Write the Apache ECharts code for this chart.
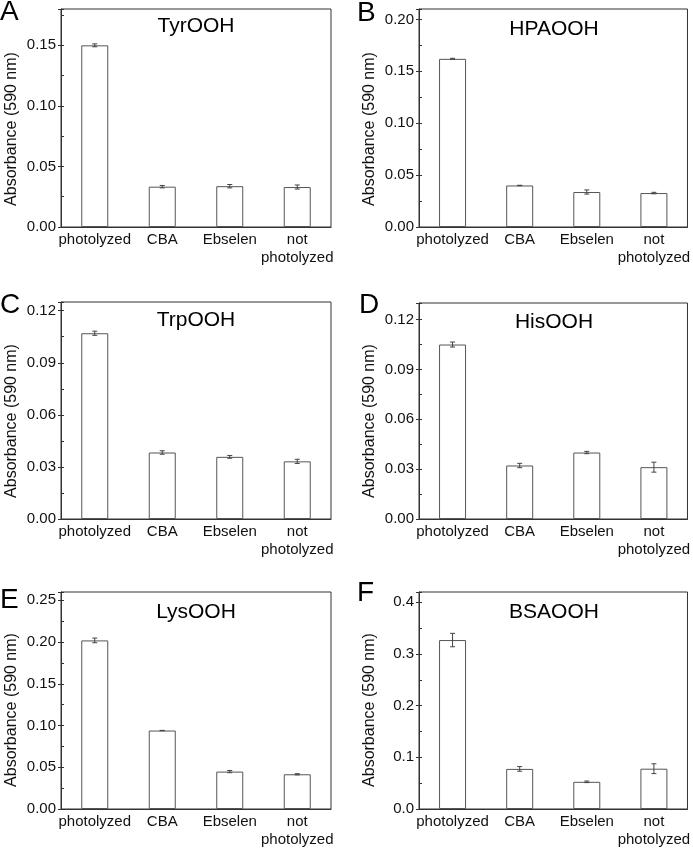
<!DOCTYPE html>
<html>
<head>
<meta charset="utf-8">
<script src="https://cdn.jsdelivr.net/npm/echarts@6/dist/echarts.min.js"></script>
<style>html,body{margin:0;padding:0;background:#fff}#c{width:693px;height:849px}</style>
</head>
<body>
<div id="c"></div>
<script>
const categories = ['photolyzed', 'CBA', 'Ebselen', 'not\nphotolyzed'];

const panelLetters = ['A', 'B', 'C', 'D', 'E', 'F'];
const panelTitles = ['TyrOOH', 'HPAOOH', 'TrpOOH', 'HisOOH', 'LysOOH', 'BSAOOH'];

const tyrValues = [0.150, 0.0333, 0.0337, 0.0330];
const tyrErrors = [0.0012, 0.0010, 0.0014, 0.0017];
const hpaValues = [0.162, 0.0400, 0.0337, 0.0327];
const hpaErrors = [0.0005, 0.0002, 0.0020, 0.0007];
const trpValues = [0.107, 0.0383, 0.0358, 0.0332];
const trpErrors = [0.0012, 0.0010, 0.0008, 0.0012];
const hisValues = [0.105, 0.0322, 0.0400, 0.0312];
const hisErrors = [0.0015, 0.0013, 0.0007, 0.0030];
const lysValues = [0.202, 0.0940, 0.0448, 0.0416];
const lysErrors = [0.0028, 0.0002, 0.0013, 0.0007];
const bsaValues = [0.327, 0.0776, 0.0526, 0.0780];
const bsaErrors = [0.013, 0.0045, 0.0015, 0.0095];

const axisMax = [0.18, 0.21, 0.125, 0.13, 0.26, 0.42];
const axisInterval = [0.05, 0.05, 0.03, 0.03, 0.05, 0.1];
const axisDecimals = [2, 2, 2, 2, 2, 1];
const yAxisTitle = 'Absorbance (590 nm)';

const allValues = [tyrValues, hpaValues, trpValues, hisValues, lysValues, bsaValues];
const allErrors = [tyrErrors, hpaErrors, trpErrors, hisErrors, lysErrors, bsaErrors];

// layout (pixels)
const grids = [
  {left: 61, top: 9, width: 270, height: 218},
  {left: 419, top: 9, width: 270, height: 218},
  {left: 61, top: 302, width: 270, height: 217},
  {left: 419, top: 303, width: 270, height: 216},
  {left: 61, top: 592, width: 270, height: 217},
  {left: 419, top: 592, width: 270, height: 217}
];
const letterPos = [[0, 12], [357, 13], [0, 305], [359, 305], [0, 600], [357, 593]];
const titleY = [26, 29, 320, 322, 612, 612];
const ylabelY = [129, 129, 421, 421, 710, 710];
const ylabelX = [12, 370, 12, 370, 12, 370];

const FONT = "'Liberation Sans', Arial, sans-serif";
const TXT = '#111';
const LINE = '#333';

const option = {
  animation: false,
  backgroundColor: '#fff',
  grid: [], xAxis: [], yAxis: [], series: [], graphic: []
};

grids.forEach((g, i) => {
  option.grid.push(Object.assign({show: true, borderColor: LINE, borderWidth: 1, containLabel: false}, g));
  option.xAxis.push({
    type: 'category', gridIndex: i, data: categories,
    axisLine: {lineStyle: {color: LINE, width: 1}},
    axisTick: {show: false},
    axisLabel: {color: TXT, fontFamily: FONT, fontSize: 15, margin: 4, lineHeight: 18, interval: 0}
  });
  const dec = axisDecimals[i];
  // labelled axis with inside ticks
  option.yAxis.push({
    type: 'value', gridIndex: i, position: 'left', min: 0, max: axisMax[i], interval: axisInterval[i],
    splitLine: {show: false},
    axisLine: {show: true, lineStyle: {color: LINE, width: 1}},
    axisTick: {show: true, inside: true, length: 3, lineStyle: {color: LINE}},
    minorTick: {show: true, splitNumber: 2, length: 3, lineStyle: {color: LINE}},
    axisLabel: {color: TXT, fontFamily: FONT, fontSize: 15, margin: 5, showMaxLabel: false,
      formatter: v => v.toFixed(dec)}
  });
  // outward half of the crossing major ticks
  option.yAxis.push({
    type: 'value', gridIndex: i, position: 'left', min: 0, max: axisMax[i], interval: axisInterval[i],
    splitLine: {show: false},
    axisLine: {show: false},
    axisTick: {show: true, inside: false, length: 3, lineStyle: {color: LINE}},
    axisLabel: {show: false}
  });
  option.series.push({
    type: 'bar', xAxisIndex: i, yAxisIndex: 2 * i, data: allValues[i], barWidth: 27,
    itemStyle: {color: '#fff', borderColor: '#555', borderWidth: 1}
  });
  option.series.push({
    type: 'custom', xAxisIndex: i, yAxisIndex: 2 * i,
    data: allValues[i].map((v, k) => [k, v, allErrors[i][k]]),
    encode: {x: 0, y: 1},
    z: 5,
    renderItem: function (params, api) {
      const x = api.value(0), y = api.value(1), e = api.value(2);
      const t = api.coord([x, y + e]);
      const b = api.coord([x, y - e]);
      const w = 2.5;
      const st = {stroke: '#444', lineWidth: 1};
      return {type: 'group', children: [
        {type: 'line', shape: {x1: t[0], y1: t[1], x2: b[0], y2: b[1]}, style: st},
        {type: 'line', shape: {x1: t[0] - w, y1: t[1], x2: t[0] + w, y2: t[1]}, style: st},
        {type: 'line', shape: {x1: b[0] - w, y1: b[1], x2: b[0] + w, y2: b[1]}, style: st}
      ]};
    }
  });
  option.graphic.push({
    type: 'text', x: letterPos[i][0], y: letterPos[i][1],
    style: {text: panelLetters[i], fontFamily: FONT, fontSize: 28, fill: '#000', align: 'left', verticalAlign: 'middle'}
  });
  option.graphic.push({
    type: 'text', x: g.left + g.width / 2, y: titleY[i],
    style: {text: panelTitles[i], fontFamily: FONT, fontSize: 21, fill: '#000', align: 'center', verticalAlign: 'middle'}
  });
  option.graphic.push({
    type: 'text', x: ylabelX[i], y: ylabelY[i], rotation: Math.PI / 2,
    style: {text: yAxisTitle, fontFamily: FONT, fontSize: 16, fill: TXT, align: 'center', verticalAlign: 'middle'}
  });
});

const chart = echarts.init(document.getElementById('c'), null, {renderer: 'canvas'});
chart.setOption(option);
</script>
</body>
</html>
